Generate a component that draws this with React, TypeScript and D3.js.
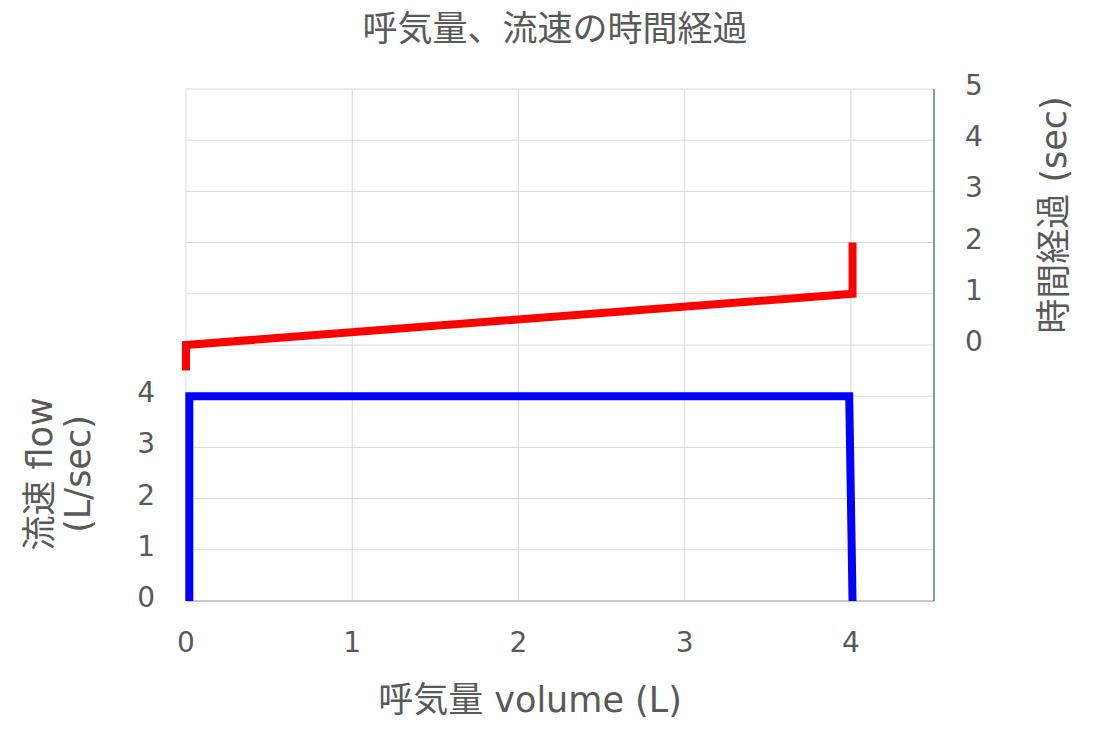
import * as d3 from 'd3';

// volume (L) vs flow (L/sec) – left axis
const flowVolume = [0.02, 0.02, 3.99, 4.01];
const flowValues = [0, 4, 4, 0];

// volume (L) vs elapsed time (sec) – right axis
const timeVolume = [0, 0, 4.01, 4.01];
const timeValues = [-0.5, 0, 1, 2];

const xTicks = [0, 1, 2, 3, 4];
const leftTicks = [0, 1, 2, 3, 4];
const rightTicks = [0, 1, 2, 3, 4, 5];
const gridValues = d3.range(0, 11);

const WIDTH = 1103;
const HEIGHT = 742;
const TEXT = '#595959';
const FONT = "'DejaVu Sans', 'Noto Sans CJK JP', sans-serif";

export default function App() {
  const x = d3.scaleLinear().domain([0, 4.5]).range([186, 934]);
  const yLeft = d3.scaleLinear().domain([0, 10]).range([601, 89]);
  const yRight = d3.scaleLinear().domain([-5, 5]).range([601, 89]);

  const flowLine = d3
    .line<number>()
    .x((_, i) => x(flowVolume[i]))
    .y((d) => yLeft(d));
  const timeLine = d3
    .line<number>()
    .x((_, i) => x(timeVolume[i]))
    .y((d) => yRight(d));

  return (
    <div style={{ position: 'absolute', left: 0, top: 0 }}>
      <svg width={WIDTH} height={HEIGHT} style={{ display: 'block', background: '#fff' }} fontFamily={FONT}>
        {/* gridlines */}
        {gridValues.map((v) => (
          <line key={`h${v}`} x1={x(0)} x2={x(4.5)} y1={yLeft(v)} y2={yLeft(v)} stroke="#d9d9d9" strokeWidth={1} />
        ))}
        {xTicks.map((v) => (
          <line key={`v${v}`} x1={x(v)} x2={x(v)} y1={yLeft(10)} y2={yLeft(0)} stroke="#d9d9d9" strokeWidth={1} />
        ))}
        <line x1={x(0)} x2={x(4.5)} y1={yLeft(0)} y2={yLeft(0)} stroke="#bfbfbf" strokeWidth={1.5} />
        <line x1={x(4.5)} x2={x(4.5)} y1={yLeft(10)} y2={yLeft(0)} stroke="#5b7b8e" strokeWidth={1.5} />

        {/* series */}
        <path d={flowLine(flowValues) ?? ''} fill="none" stroke="#0000ff" strokeWidth={8} strokeLinejoin="miter" />
        <path d={timeLine(timeValues) ?? ''} fill="none" stroke="#ff0000" strokeWidth={8} strokeLinejoin="miter" />

        {/* tick labels */}
        {xTicks.map((v) => (
          <text key={`xt${v}`} x={x(v)} y={652} textAnchor="middle" fontSize={28} fill={TEXT}>
            {v}
          </text>
        ))}
        {leftTicks.map((v) => (
          <text key={`lt${v}`} x={155} y={yLeft(v) + 6} textAnchor="end" fontSize={28} fill={TEXT}>
            {v}
          </text>
        ))}
        {rightTicks.map((v) => (
          <text key={`rt${v}`} x={965} y={yRight(v) + 6} textAnchor="start" fontSize={28} fill={TEXT}>
            {v}
          </text>
        ))}

        {/* titles */}
        <text x={555} y={41} textAnchor="middle" fontSize={35} fill={TEXT}>
          呼気量、流速の時間経過
        </text>
        <text x={530} y={712} textAnchor="middle" fontSize={35} fill={TEXT}>
          呼気量 volume (L)
        </text>
        <g transform="translate(42,474) rotate(-90)">
          <text x={0} y={0} textAnchor="middle" dominantBaseline="middle" fontSize={35} fill={TEXT}>
            流速 flow
          </text>
          <text x={0} y={38} textAnchor="middle" dominantBaseline="middle" fontSize={35} fill={TEXT}>
            (L/sec)
          </text>
        </g>
        <g transform="translate(1056,215) rotate(-90)">
          <text x={0} y={0} textAnchor="middle" dominantBaseline="middle" fontSize={35} fill={TEXT}>
            時間経過 (sec)
          </text>
        </g>
      </svg>
    </div>
  );
}
